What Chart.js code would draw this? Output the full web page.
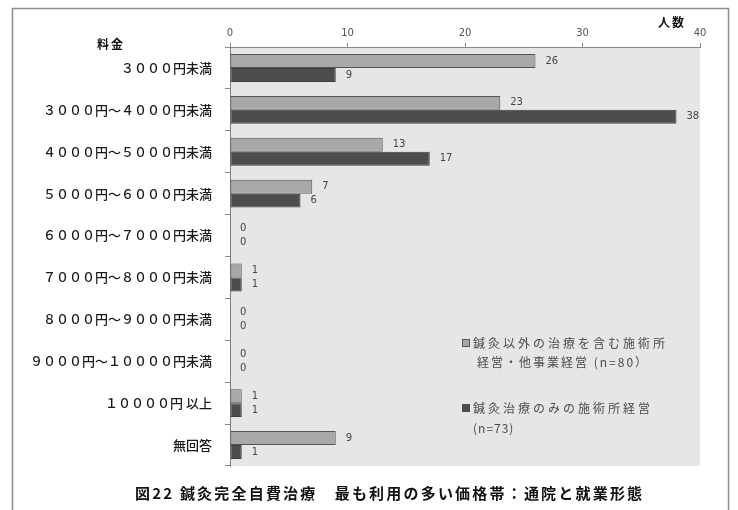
<!DOCTYPE html>
<html>
<head>
<meta charset="utf-8">
<script src="https://cdn.jsdelivr.net/npm/chart.js@4"></script>
<style>
  html, body { margin: 0; padding: 0; background: #fff; }
  #chart_canvas { display: block; }
</style>
</head>
<body>
<canvas id="chart_canvas" width="738" height="510"></canvas>
<script>
const CATEGORIES = [
    '３０００円未満',
    '３０００円～４０００円未満',
    '４０００円～５０００円未満',
    '５０００円～６０００円未満',
    '６０００円～７０００円未満',
    '７０００円～８０００円未満',
    '８０００円～９０００円未満',
    '９０００円～１００００円未満',
    '１００００円 以上',
    '無回答'
];
const OTHER_BUSINESS = [26, 23, 13, 7, 0, 1, 0, 0, 1, 9];
const ACUPUNCTURE_ONLY = [9, 38, 17, 6, 0, 1, 0, 0, 1, 1];
const X_MAX = 40;
const X_STEP = 10;

const SERIES_NAMES = [
    ['鍼灸以外の治療を含む施術所', '経営・他事業経営 (n=80）'],
    ['鍼灸治療のみの施術所経営', '(n=73)']
];
const FIG_TITLE = '図22 鍼灸完全自費治療　最も利用の多い価格帯：通院と就業形態';

const JP_FONT = '"Noto Sans CJK JP", "Noto Sans", sans-serif';
const NUM_FONT = '"DejaVu Sans", sans-serif';
const CHART_CANVAS = document.getElementById('chart_canvas');

// frame, plot background, value labels, legend and captions
const decorations = {
    id: 'decorations',
    beforeDraw(chart) {
        const ctx = chart.ctx;
        const a = chart.chartArea;
        ctx.save();
        ctx.fillStyle = '#ffffff';
        ctx.fillRect(0, 0, chart.width, chart.height);
        ctx.strokeStyle = '#8c8c8c';
        ctx.lineWidth = 1.5;
        ctx.strokeRect(12.5, 8.5, 716, 520);
        ctx.fillStyle = '#e6e6e6';
        ctx.fillRect(a.left, a.top, a.right - a.left, a.bottom - a.top);
        ctx.restore();
    },
    afterDatasetsDraw(chart) {
        const ctx = chart.ctx;
        ctx.save();
        ctx.font = '10px ' + NUM_FONT;
        ctx.fillStyle = '#444';
        ctx.textAlign = 'left';
        ctx.textBaseline = 'middle';
        chart.data.datasets.forEach((ds, di) => {
            chart.getDatasetMeta(di).data.forEach((bar, i) => {
                ctx.fillText(String(ds.data[i]), bar.x + 10, bar.y);
            });
        });
        ctx.restore();
    },
    afterDraw(chart) {
        const ctx = chart.ctx;
        ctx.save();
        ctx.textBaseline = 'middle';

        // axis captions
        ctx.fillStyle = '#111';
        ctx.font = 'bold 12px ' + JP_FONT;
        ctx.letterSpacing = '2px';
        ctx.textAlign = 'left';
        ctx.fillText('料金', 97, 44);
        ctx.fillText('人数', 658, 22);

        // legend
        ctx.font = '12px ' + JP_FONT;
        const rows = [343, 408];
        rows.forEach((y, k) => {
            if (k === 0) {
                ctx.fillStyle = '#a8a8a8';
                ctx.fillRect(462, y - 4, 8, 8);
                ctx.strokeStyle = '#555';
                ctx.lineWidth = 1;
                ctx.strokeRect(462.5, y - 3.5, 7, 7);
            } else {
                ctx.fillStyle = '#4d4d4d';
                ctx.fillRect(462, y - 4, 8, 8);
            }
            ctx.fillStyle = '#4a4a4a';
            ctx.letterSpacing = '3px';
            ctx.fillText(SERIES_NAMES[k][0], 473, y);
            ctx.letterSpacing = k === 0 ? '2px' : '1px';
            ctx.fillText(SERIES_NAMES[k][1], k === 0 ? 477 : 473, y + (k === 0 ? 19 : 20));
        });

        // figure caption
        ctx.font = 'bold 15px ' + JP_FONT;
        ctx.letterSpacing = '2.2px';
        ctx.fillStyle = '#111';
        ctx.textAlign = 'left';
        ctx.fillText(FIG_TITLE, 135, 493);
        ctx.restore();
    }
};

const data = {
    labels: CATEGORIES,
    datasets: [
        {
            label: SERIES_NAMES[0].join(''),
            data: OTHER_BUSINESS,
            backgroundColor: '#a8a8a8',
            borderColor: '#555555',
            borderWidth: 1,
            borderSkipped: false,
            categoryPercentage: 0.667,
            barPercentage: 1.0,
        },
        {
            label: SERIES_NAMES[1].join(''),
            data: ACUPUNCTURE_ONLY,
            backgroundColor: '#4d4d4d',
            borderColor: '#3d3d3d',
            borderWidth: 1,
            borderSkipped: false,
            categoryPercentage: 0.667,
            barPercentage: 1.0,
        },
    ]
};

const config = {
    type: 'bar',
    data: data,
    options: {
        indexAxis: 'y',
        responsive: false,
        animation: false,
        layout: {
            padding: { left: 0, right: 38, top: 0, bottom: 44 }
        },
        plugins: {
            legend: { display: false },
            title: { display: false },
            tooltip: { enabled: false }
        },
        scales: {
            x: {
                position: 'top',
                min: 0,
                max: X_MAX,
                ticks: {
                    stepSize: X_STEP,
                    font: { family: NUM_FONT, size: 10 },
                    color: '#555',
                    padding: 4,
                },
                grid: {
                    drawOnChartArea: false,
                    tickLength: 4,
                    color: '#8a8a8a',
                },
                border: { color: '#8a8a8a' },
                afterFit(scale) { scale.height = 47; }
            },
            y: {
                ticks: {
                    font: { family: JP_FONT, size: 13, weight: 500 },
                    color: '#1a1a1a',
                    padding: 13,
                },
                grid: {
                    drawOnChartArea: false,
                    tickLength: 5,
                    color: '#8a8a8a',
                },
                border: { color: '#7a7a7a' },
                afterFit(scale) { scale.width = 230; }
            }
        }
    },
    plugins: [decorations]
};

const myChart = new Chart(CHART_CANVAS, config);
</script>
</body>
</html>
